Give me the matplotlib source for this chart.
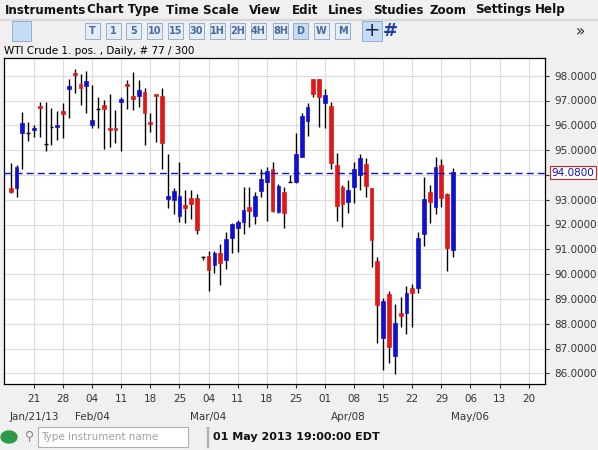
import matplotlib
matplotlib.use("Agg")
import matplotlib.pyplot as plt
from matplotlib.patches import Rectangle

opens = [93.49,93.49,95.70,95.69,95.81,96.72,95.23,95.92,95.94,96.58,97.46,98.03,97.65,97.60,96.01,96.64,96.82,95.82,95.85,96.95,
         97.61,97.19,97.18,97.36,96.09,97.19,97.19,93.02,93.00,92.36,92.78,93.08,93.08,90.70,90.73,90.37,90.86,90.57,91.44,91.85,
         92.11,92.72,92.36,93.36,93.73,94.24,92.52,93.31,93.73,93.73,
         94.73,96.19,97.87,97.87,96.91,96.78,94.40,93.53,92.92,93.52,94.00,94.44,93.46,90.53,87.41,89.20,86.70,88.42,88.42,89.43,
         89.43,91.62,93.32,92.72,94.40,93.23,90.97]
highs = [94.47,94.40,96.55,96.15,96.01,96.95,96.93,96.68,96.58,96.89,97.87,98.27,98.07,98.19,97.63,97.15,97.02,97.26,96.62,97.13,
         97.83,98.14,97.83,97.49,96.48,97.19,97.52,94.84,93.46,94.53,93.39,93.39,93.22,90.73,90.93,90.94,91.21,91.71,92.05,92.18,
         93.51,93.50,93.32,94.24,94.33,94.53,93.63,93.53,94.00,95.70,
         96.48,96.89,97.87,97.87,97.45,96.95,94.87,93.59,93.79,94.53,94.83,94.67,93.46,90.70,89.02,89.33,88.79,89.06,89.52,89.60,
         91.71,93.90,93.59,94.73,94.63,93.28,94.27]
lows = [93.26,93.12,94.24,95.38,95.54,95.51,94.98,95.21,95.41,95.50,96.31,97.32,96.82,96.51,95.90,95.88,95.03,95.14,95.30,94.98,
        96.64,96.62,96.75,95.21,95.74,95.31,94.24,92.65,92.42,92.11,92.07,92.21,91.60,90.57,89.33,90.06,89.56,90.19,90.84,90.91,
        91.60,91.91,92.02,93.12,92.15,92.49,92.48,91.85,93.70,93.69,
        94.71,95.57,97.15,95.94,95.90,94.23,92.15,91.91,92.48,92.88,93.39,93.10,90.30,87.21,86.13,86.43,85.96,87.85,87.58,87.85,
        89.25,91.13,92.07,92.42,92.72,90.14,90.68]
closes = [93.32,94.33,96.08,95.69,95.90,96.70,95.23,95.92,96.02,96.46,97.60,98.01,97.52,97.79,96.21,96.64,96.66,95.80,95.83,97.07,
          97.59,97.06,97.42,96.48,96.07,97.17,95.27,93.16,93.35,93.16,92.68,92.81,91.78,90.70,90.17,90.86,90.46,91.42,92.01,92.11,
          92.58,92.56,93.16,93.83,94.16,92.56,93.55,92.45,93.73,94.83,
          96.37,96.75,97.26,97.13,97.22,94.49,92.76,92.83,93.39,94.24,94.67,93.55,91.38,88.75,88.93,87.05,88.02,88.31,89.22,89.25,
          91.44,93.01,92.92,94.30,93.05,91.04,94.10]
last_price = 94.08
price_ticks = [86, 87, 88, 89, 90, 91, 92, 93, 94, 95, 96, 97, 98]
day_labels = ["21","28","04","11","18","25","04","11","18","25","01","08","15","22","29","06","13","20"]
month_labels = ["Jan/21/13", "Feb/04", "Mar/04", "Apr/08", "May/06"]
month_pos = [4, 14, 34, 58, 79]

W, H = 598, 450
fig = plt.figure(figsize=(W/100, H/100), dpi=100, facecolor="#f0f0f0")

def fx(px): return px / W
def fy(py): return 1 - py / H

# menu bar
menus = [("Instruments", 5), ("Chart Type", 87), ("Time Scale", 166), ("View", 249), ("Edit", 292), ("Lines", 328), ("Studies", 373), ("Zoom", 429), ("Settings", 475), ("Help", 535)]
for t, x in menus:
    fig.text(fx(x), fy(10), t, fontsize=8.6, fontweight="bold", family="DejaVu Sans", va="center", ha="left", color="#111111")
fig.add_artist(Rectangle((0, fy(20)), 1, 0.002, transform=fig.transFigure, color="#d8d8d8"))

# toolbar buttons
btns = [("T", 92), ("1", 113), ("5", 133), ("10", 154), ("15", 175), ("30", 196), ("1H", 217), ("2H", 237), ("4H", 258), ("8H", 280), ("D", 300), ("W", 321), ("M", 342)]
for t, x in btns:
    sel = (t == "D")
    fig.add_artist(Rectangle((fx(x-7), fy(39)), fx(15), 16/H, transform=fig.transFigure,
                             facecolor="#c5dcf5" if sel else "#e4ecf5", edgecolor="#8aa4c8", lw=0.6))
    fig.text(fx(x+0.5), fy(31), t, fontsize=7, fontweight="bold", color="#4a6a9a", ha="center", va="center")
fig.add_artist(Rectangle((fx(12), fy(41)), fx(19), 20/H, transform=fig.transFigure, facecolor="#c5dcf5", edgecolor="#8aa4c8", lw=0.6))
fig.add_artist(Rectangle((fx(362), fy(41)), fx(20), 20/H, transform=fig.transFigure, facecolor="#c5dcf5", edgecolor="#8aa4c8", lw=0.6))
fig.text(fx(372), fy(31), "+", fontsize=14, color="#222244", ha="center", va="center")
fig.text(fx(390), fy(31), "#", fontsize=13, fontweight="bold", color="#2040a0", ha="center", va="center")
fig.text(fx(580), fy(32), "»", fontsize=11, color="#222222", ha="center", va="center")

fig.text(fx(4), fy(51), "WTI Crude 1. pos. , Daily, # 77 / 300", fontsize=7.5, family="DejaVu Sans", va="center", ha="left")

# main axes
ax = fig.add_axes([fx(4), fy(384), fx(541), (384-58)/H])
ax.set_facecolor("white")
x0, dx = 10.7, 5.82
ax.set_xlim((4 - x0)/dx, (545 - x0)/dx)
ax.set_ylim(98 - (384-75.7)/24.8, 98 + (75.7-58)/24.8)
xt = [4 + 5*k for k in range(len(day_labels))]
ax.set_xticks(xt)
ax.set_xticklabels(day_labels)
ax.set_yticks(price_ticks)
ax.set_yticklabels(["" if abs(p - last_price) < 0.5 else f"{p:.4f}" for p in price_ticks])
ax.yaxis.tick_right()
ax.grid(True, color="#dcdcdc", lw=0.8)
ax.set_axisbelow(True)
ax.tick_params(axis="both", labelsize=7.5, length=3, colors="#333333")
ax.tick_params(axis="x", pad=4)
for s in ax.spines.values():
    s.set_color("black"); s.set_linewidth(0.9)

bw = 0.65
for i, (o, h, l, c) in enumerate(zip(opens, highs, lows, closes)):
    ax.vlines(i, l, h, color="black", lw=1, zorder=2)
    if c > o:
        col = "#1010d0"
    elif c < o:
        col = "#e01818"
    else:
        col = None
    if col is None:
        ax.hlines(o, i - bw/2, i + bw/2, color="black", lw=1, zorder=3)
    else:
        ax.add_patch(Rectangle((i - bw/2, min(o, c)), bw, max(abs(c - o), 0.08), facecolor=col, edgecolor=col, lw=0.5, zorder=3))

ax.axhline(last_price, color="#1010c0", lw=1, ls=(0, (5, 3)), zorder=4)
ax.text(1.012, last_price, f"{last_price:.4f}", transform=ax.get_yaxis_transform(), fontsize=7.5, color="#1010c0",
        va="center", ha="left", bbox=dict(boxstyle="square,pad=0.15", facecolor="white", edgecolor="#d02020", lw=0.8))

for lab, p in zip(month_labels, month_pos):
    ax.text(p, -0.1, lab, transform=ax.get_xaxis_transform(), fontsize=7.5, ha="center", va="center", color="#333333")

# status bar
fig.add_artist(plt.Circle((fx(9), fy(437)), 6/H, transform=fig.transFigure, color="#2a9a4a"))
fig.add_artist(Rectangle((fx(38), fy(447)), fx(150), 20/H, transform=fig.transFigure, facecolor="white", edgecolor="#b0b0b0", lw=0.8))
fig.text(fx(30), fy(437), "⚲", fontsize=9, color="#888888", ha="center", va="center")
fig.text(fx(41), fy(437), "Type instrument name", fontsize=7.5, color="#a0a0a0", ha="left", va="center")
fig.add_artist(Rectangle((fx(207), fy(447)), 0.0015, 20/H, transform=fig.transFigure, color="#b0b0b0"))
fig.text(fx(213), fy(437), "01 May 2013 19:00:00 EDT", fontsize=8, fontweight="bold", color="#111111", ha="left", va="center")

fig.savefig("out.png", dpi=100, facecolor=fig.get_facecolor())
